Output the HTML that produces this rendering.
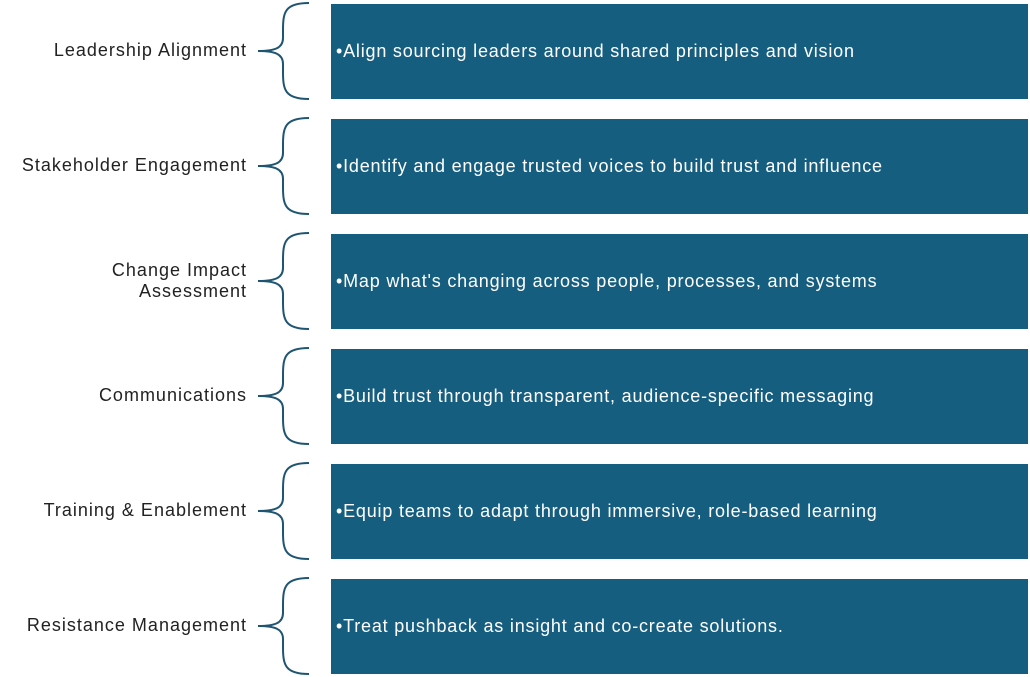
<!DOCTYPE html>
<html><head><style>
body{margin:0;width:1030px;height:677px;background:#fff;position:relative;font-family:"Liberation Sans",sans-serif;overflow:hidden}
.box{position:absolute;left:331px;width:697px;height:95px;background:#165e80;color:#fff;font-size:18px;letter-spacing:0.8px;line-height:95px;padding-left:5px;box-sizing:border-box;white-space:nowrap}
.lab{position:absolute;right:783px;width:300px;text-align:right;font-size:18px;letter-spacing:1px;color:#222;line-height:21px}
svg{position:absolute;left:0;top:0}
</style></head><body>
<svg width="1030" height="677">
<g fill="none" stroke="#1f5572" stroke-width="2">
<path id="b" d="M309,3 C285,3 283,12 283,30 L283,38 C283,48 275,51 258,51 C275,51 283,54 283,64 L283,72 C283,90 285,99 309,99"/>
<use href="#b" y="115"/><use href="#b" y="230"/><use href="#b" y="345"/><use href="#b" y="460"/><use href="#b" y="575"/>
</g></svg>
<div class="lab" style="top:40px">Leadership Alignment</div>
<div class="lab" style="top:155px">Stakeholder Engagement</div>
<div class="lab" style="top:260px">Change Impact<br>Assessment</div>
<div class="lab" style="top:385px">Communications</div>
<div class="lab" style="top:500px">Training &amp; Enablement</div>
<div class="lab" style="top:615px">Resistance Management</div>
<div class="box" style="top:4px">•Align sourcing leaders around shared principles and vision</div>
<div class="box" style="top:119px">•Identify and engage trusted voices to build trust and influence</div>
<div class="box" style="top:234px">•Map what's changing across people, processes, and systems</div>
<div class="box" style="top:349px">•Build trust through transparent, audience-specific messaging</div>
<div class="box" style="top:464px">•Equip teams to adapt through immersive, role-based learning</div>
<div class="box" style="top:579px">•Treat pushback as insight and co-create solutions.</div>
</body></html>
